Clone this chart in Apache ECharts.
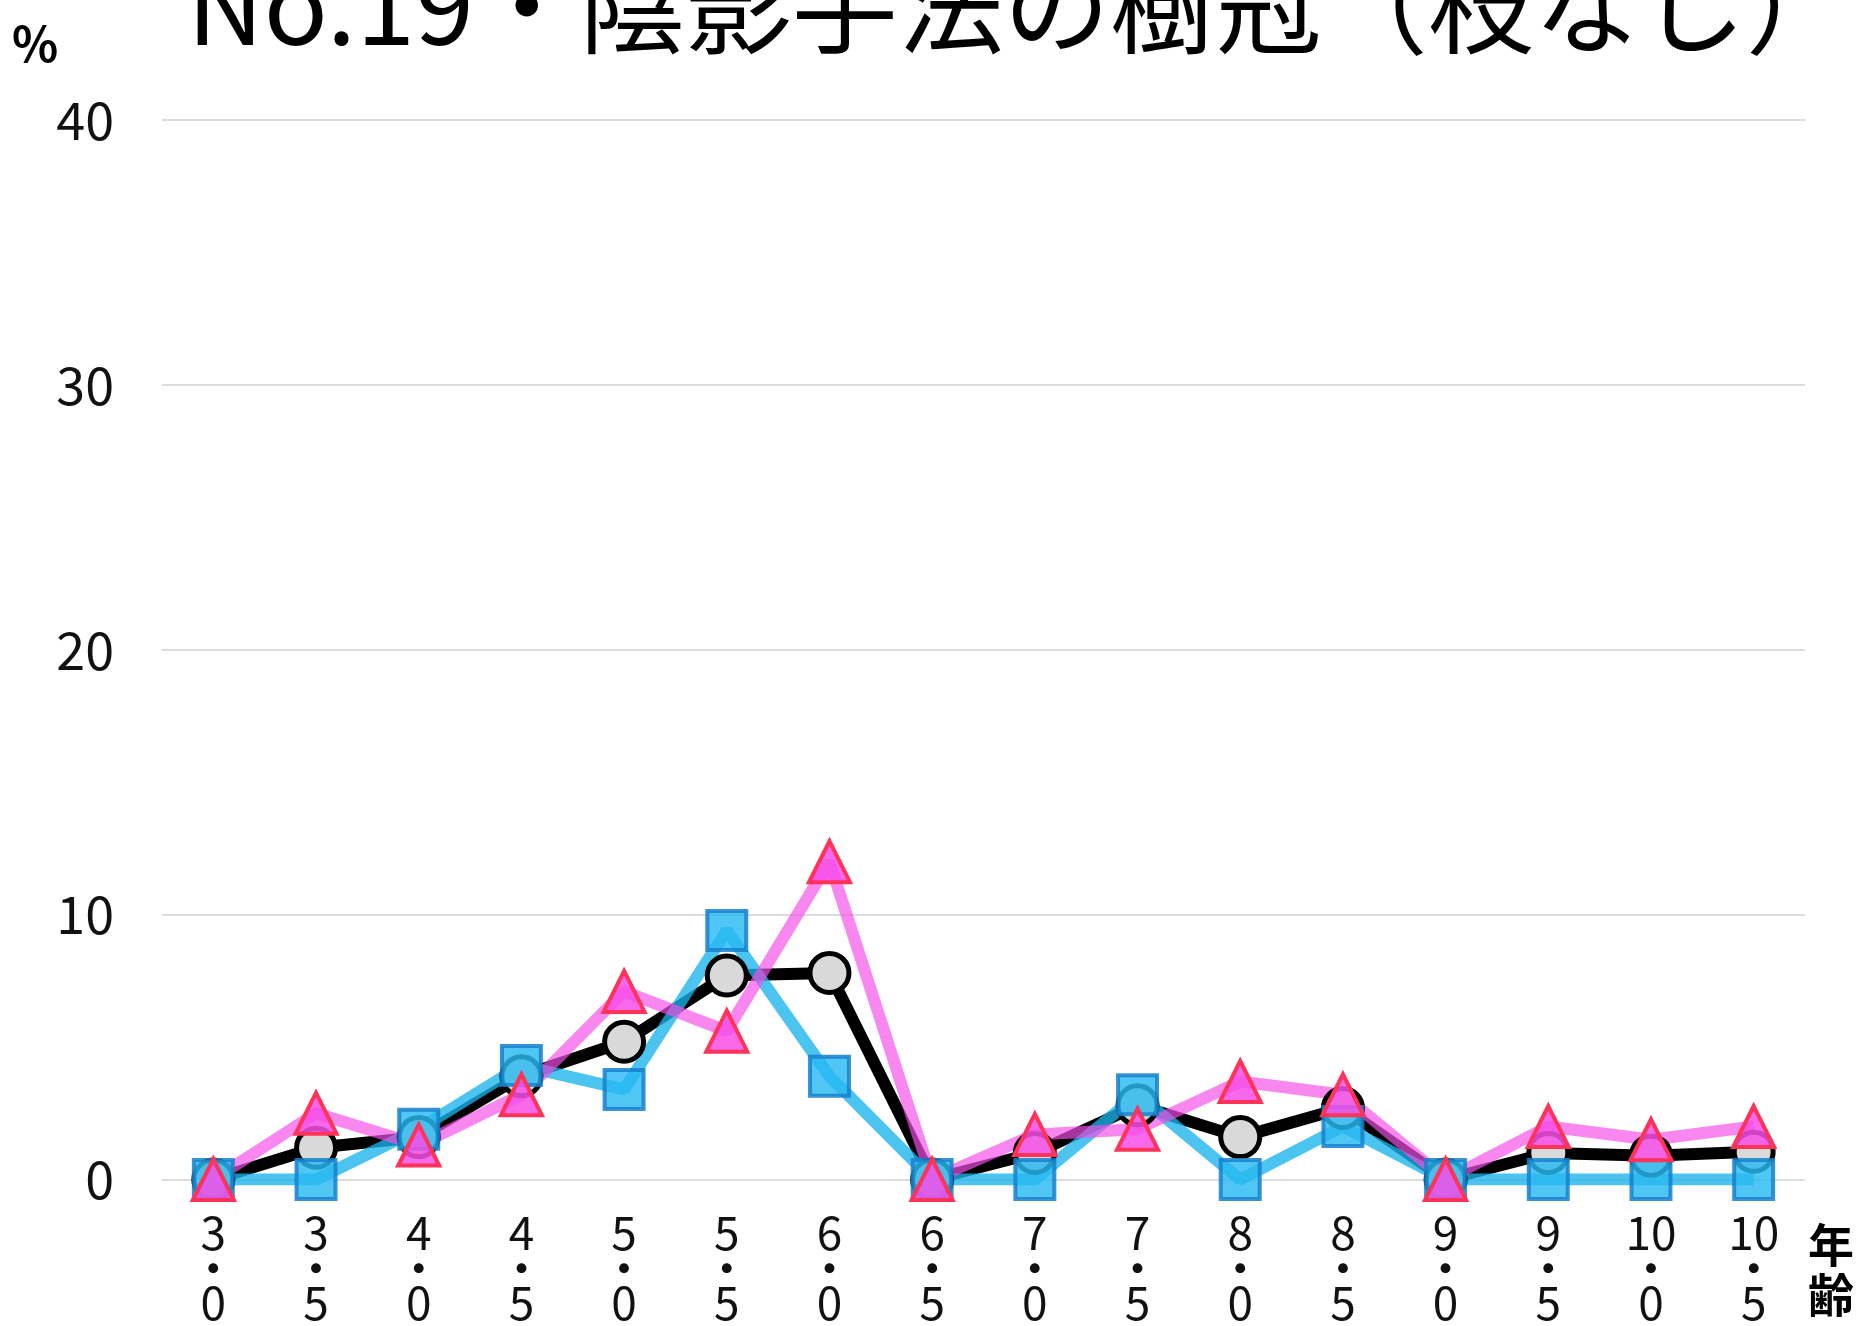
<!DOCTYPE html>
<html>
<head>
<meta charset="utf-8">
<script src="https://cdn.jsdelivr.net/npm/echarts@6/dist/echarts.min.js"></script>
<style>
  html, body { margin:0; padding:0; background:#fff; }
  #chart { width:1864px; height:1326px; }
</style>
</head>
<body>
<div id="chart"></div>
<script>
// ====== data ======
const TITLE = 'No.19・陰影手法の樹冠（枝なし）';
const AGES = ['3\n・\n0','3\n・\n5','4\n・\n0','4\n・\n5','5\n・\n0','5\n・\n5','6\n・\n0','6\n・\n5',
              '7\n・\n0','7\n・\n5','8\n・\n0','8\n・\n5','9\n・\n0','9\n・\n5','10\n・\n0','10\n・\n5'];
const Y_TICKS = [0, 10, 20, 30, 40];

// 全体（黒・丸）
const totalVals = [0, 1.2, 1.6, 3.9, 5.2, 7.7, 7.8, 0, 1.0, 2.8, 1.6, 2.7, 0, 1.0, 0.9, 1.05];
// 男子（青・四角）
const boyVals   = [0, 0, 1.9, 4.3, 3.4, 9.4, 3.9, 0, 0, 3.2, 0, 2.0, 0, 0, 0, 0];
// 女子（ピンク・三角）
const girlVals  = [0, 2.5, 1.3, 3.2, 7.1, 5.6, 12.0, 0, 1.7, 1.9, 3.7, 3.2, 0, 2.0, 1.5, 2.0];

const FONT = '"Noto Sans CJK JP", "Noto Sans", sans-serif';

const chart = echarts.init(document.getElementById('chart'));

chart.setOption({
  animation: false,
  backgroundColor: '#fff',
  title: {
    text: TITLE,
    left: 182, top: -53,
    textStyle: { fontFamily: FONT, fontSize: 106, fontWeight: 'normal', color: '#000' }
  },
  grid: { left: 162, right: 59, top: 120, bottom: 145 },
  xAxis: {
    type: 'category',
    data: AGES,
    boundaryGap: true,
    axisLine: { show: false },
    axisTick: { show: false },
    axisLabel: {
      interval: 0, margin: 36,
      fontFamily: FONT, fontSize: 46, lineHeight: 35, color: '#111'
    }
  },
  yAxis: {
    type: 'value',
    min: Y_TICKS[0], max: Y_TICKS[Y_TICKS.length - 1], interval: 10,
    axisLine: { show: false },
    axisTick: { show: false },
    splitLine: { lineStyle: { color: '#dcdcdc', width: 2 } },
    axisLabel: { margin: 48, fontFamily: FONT, fontSize: 52, color: '#111' }
  },
  graphic: [
    { type: 'text', left: 12, top: 20,
      style: { text: '%', font: 'bold 48px ' + FONT, fill: '#000' } },
    { type: 'text', left: 1808, top: 1220,
      style: { text: '年\n齢', font: 'bold 46px ' + FONT, lineHeight: 50, fill: '#000' } }
  ],
  series: [
    {
      name: '全体', type: 'line', data: totalVals,
      symbol: 'circle', symbolSize: 39,
      lineStyle: { color: '#000', width: 12 },
      itemStyle: { color: '#d9d9d9', borderColor: '#000', borderWidth: 5 }
    },
    {
      name: '男子', type: 'line', data: boyVals,
      symbol: 'rect', symbolSize: 39,
      lineStyle: { color: 'rgba(26,180,236,0.78)', width: 12 },
      itemStyle: { color: 'rgba(40,186,240,0.82)', borderColor: 'rgba(22,128,205,0.85)', borderWidth: 4 }
    },
    {
      name: '女子', type: 'line', data: girlVals,
      symbol: 'triangle', symbolSize: 41,
      lineStyle: { color: 'rgba(244,80,232,0.68)', width: 12 },
      itemStyle: { color: 'rgba(246,78,232,0.85)', borderColor: '#ff3358', borderWidth: 4 }
    }
  ]
});
</script>
</body>
</html>
